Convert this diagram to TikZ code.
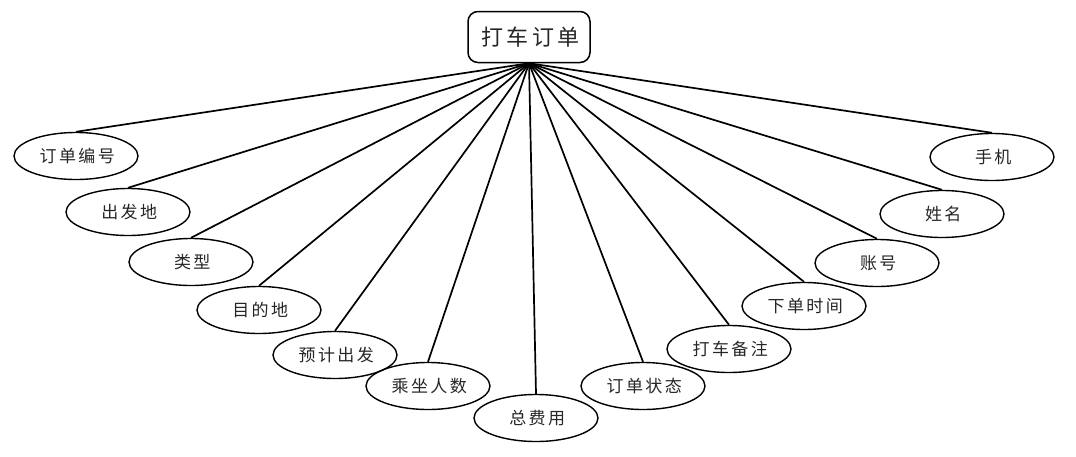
\documentclass[tikz,border=0pt]{standalone}
\usepackage{fontspec}
\newfontfamily\cjk[LetterSpace=14]{Noto Sans CJK SC}
\usetikzlibrary{shapes.geometric}
\begin{document}
\begin{tikzpicture}[x=1pt,y=-1pt,
  attr/.style={ellipse,draw=black,line width=1.4pt,minimum width=124pt,minimum height=47pt,inner sep=0pt,font=\cjk\fontsize{17}{20}\selectfont,text=black!85,execute at begin node={\hspace{2.4pt}}},
  topbox/.style={draw=black,line width=1.5pt,rounded corners=10pt,minimum width=122pt,minimum height=51pt,inner sep=0pt,font=\cjk\fontsize{22}{24}\selectfont,text=black!85,execute at begin node={\hspace{3pt}}},
  link/.style={line width=1.7pt,black}]
\useasboundingbox (0,0) rectangle (1076,456);
\node[topbox] (top) at (529,37) {打车订单};
\node[attr] (e1) at (76,156) {订单编号};
\node[attr] (e2) at (128,212) {出发地};
\node[attr] (e3) at (191,262) {类型};
\node[attr] (e4) at (259,310) {目的地};
\node[attr] (e5) at (335,355) {预计出发};
\node[attr] (e6) at (428,386) {乘坐人数};
\node[attr] (e7) at (536,418) {总费用};
\node[attr] (e8) at (643,386) {订单状态};
\node[attr] (e9) at (729,349) {打车备注};
\node[attr] (e10) at (804,306) {下单时间};
\node[attr] (e11) at (877,263) {账号};
\node[attr] (e12) at (942,214) {姓名};
\node[attr] (e13) at (992,157) {手机};
\foreach \i in {1,...,13} {
  \draw[link] (top.south) -- (e\i.north);
}
\end{tikzpicture}
\end{document}
